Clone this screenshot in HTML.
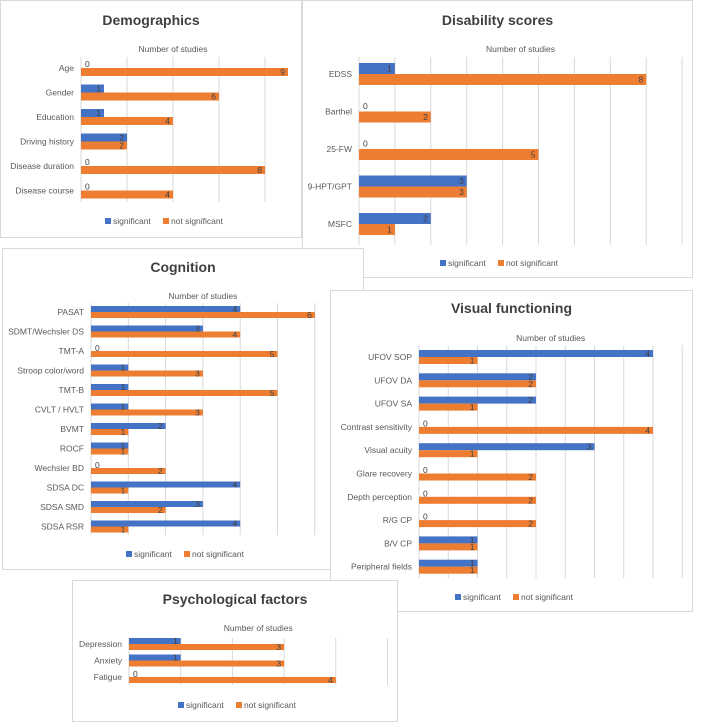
<!DOCTYPE html>
<html><head><meta charset="utf-8">
<style>
body{margin:0;width:708px;height:727px;background:#fff;position:relative;overflow:hidden;font-family:"Liberation Sans",sans-serif}
.panel{position:absolute;background:#fff;border:1px solid #d9d9d9;box-sizing:border-box}
svg{position:absolute;left:0;top:0}
</style></head><body>
<svg id="chart" width="708" height="727"></svg>
<script>
// Demographics
const demoCats=["Age","Gender","Education","Driving history","Disease duration","Disease course"];
const demoSig=[0,1,1,2,0,0];
const demoNot=[9,6,4,2,8,4];
// Disability
const disCats=["EDSS","Barthel","25-FW","9-HPT/GPT","MSFC"];
const disSig=[1,0,0,3,2];
const disNot=[8,2,5,3,1];
// Cognition
const cogCats=["PASAT","SDMT/Wechsler DS","TMT-A","Stroop color/word","TMT-B","CVLT / HVLT","BVMT","ROCF","Wechsler BD","SDSA DC","SDSA SMD","SDSA RSR"];
const cogSig=[4,3,0,1,1,1,2,1,0,4,3,4];
const cogNot=[6,4,5,3,5,3,1,1,2,1,2,1];
// Visual
const visCats=["UFOV SOP","UFOV DA","UFOV SA","Contrast sensitivity","Visual acuity","Glare recovery","Depth perception","R/G CP","B/V CP","Peripheral fields"];
const visSig=[4,2,2,0,3,0,0,0,1,1];
const visNot=[1,2,1,4,1,2,2,2,1,1];
// Psychological
const psyCats=["Depression","Anxiety","Fatigue"];
const psySig=[1,1,0];
const psyNot=[3,3,4];

const NS="http://www.w3.org/2000/svg";
const svg=document.getElementById('chart');
function mk(tag,attrs,parent,text){const e=document.createElementNS(NS,tag);for(const k in attrs)e.setAttribute(k,attrs[k]);if(text!==undefined)e.textContent=text;parent.appendChild(e);return e;}

const panels=[
 {id:'demographics',title:'Demographics',cats:demoCats,sig:demoSig,not:demoNot,box:[0,0,302,238],x0:81,unit:23,gridStep:2,gridMax:8,top:57,bottom:202,firstY:68,step:24.5,bh:8,titleY:25,axY:52,legY:224,legX:105},
 {id:'disability',title:'Disability scores',cats:disCats,sig:disSig,not:disNot,box:[302,0,391,278],x0:359,unit:35.9,gridStep:1,gridMax:9,top:57,bottom:245,firstY:74,step:37.5,bh:11,titleY:25,axY:52,legY:266,legX:440},
 {id:'cognition',title:'Cognition',cats:cogCats,sig:cogSig,not:cogNot,box:[2,248,362,322],x0:91,unit:37.3,gridStep:1,gridMax:6,top:303,bottom:535,firstY:312,step:19.5,bh:6,titleY:272,axY:299,legY:557,legX:126},
 {id:'visual',title:'Visual functioning',cats:visCats,sig:visSig,not:visNot,box:[330,290,363,322],x0:419,unit:58.5,gridStep:0.5,gridMax:4.5,top:345,bottom:578,firstY:357,step:23.3,bh:7,titleY:313,axY:341,legY:600,legX:455},
 {id:'psychological',title:'Psychological factors',cats:psyCats,sig:psySig,not:psyNot,box:[72,580,326,142],x0:129,unit:51.7,gridStep:1,gridMax:5,top:638,bottom:685,firstY:644,step:16.5,bh:6,titleY:604,axY:631,legY:708,legX:178}
];

panels.forEach(p=>{
  const g=mk('g',{},svg);
  
  
  const [bx,by,bw,bhh]=p.box;
  const r=mk('rect',{x:bx+0.5,y:by+0.5,width:bw-1,height:bhh-1,fill:'#fff',stroke:'#d9d9d9'},g);
  
  
  const xs=v=>p.x0+v*p.unit;
  const t=mk('text',{x:bx+bw/2,y:p.titleY,'text-anchor':'middle','font-size':14,'font-weight':'bold',fill:'#404040'},g,p.title);
  
  
  const at=mk('text',{x:(p.x0+xs(p.gridMax))/2,y:p.axY,'text-anchor':'middle','font-size':8.5,fill:'#595959'},g,'Number of studies');
  
  
  for(let v=0;v<=p.gridMax+1e-6;v+=p.gridStep){
    const l=mk('line',{x1:xs(v),x2:xs(v),y1:p.top,y2:p.bottom,stroke:'#d9d9d9','stroke-width':1},g);
    
    
  }
  p.cats.forEach((c,i)=>{
    const cy=p.firstY+i*p.step;
    const lb=mk('text',{x:p.x0-7,y:cy+3,'text-anchor':'end','font-size':8.5,fill:'#595959'},g,c);
    
    
    [[p.sig[i],'#4472C4',cy-p.bh],[p.not[i],'#ED7D31',cy]].forEach(([v,col,y],k)=>{
      const w=v*p.unit;
      if(v>0){
        const b=mk('rect',{x:p.x0,y:y,width:w,height:p.bh,fill:col},g);
        
        
      }
      const tx=v>0?xs(v)-3:p.x0+4;
      const dl=mk('text',{x:tx,y:y+p.bh/2+3,'text-anchor':v>0?'end':'start','font-size':8.5,fill:'#404040'},g,String(v));
      
      
    });
  });
  const lx=p.legX;
  const s1=mk('rect',{x:lx,y:p.legY-6,width:6,height:6,fill:'#4472C4'},g);
  
  
  const l1=mk('text',{x:lx+8,y:p.legY,'font-size':8.5,fill:'#595959'},g,'significant');
  
  
  const s2=mk('rect',{x:lx+58,y:p.legY-6,width:6,height:6,fill:'#ED7D31'},g);
  
  
  const l2=mk('text',{x:lx+66,y:p.legY,'font-size':8.5,fill:'#595959'},g,'not significant');
  
  
});
</script>
</body></html>
